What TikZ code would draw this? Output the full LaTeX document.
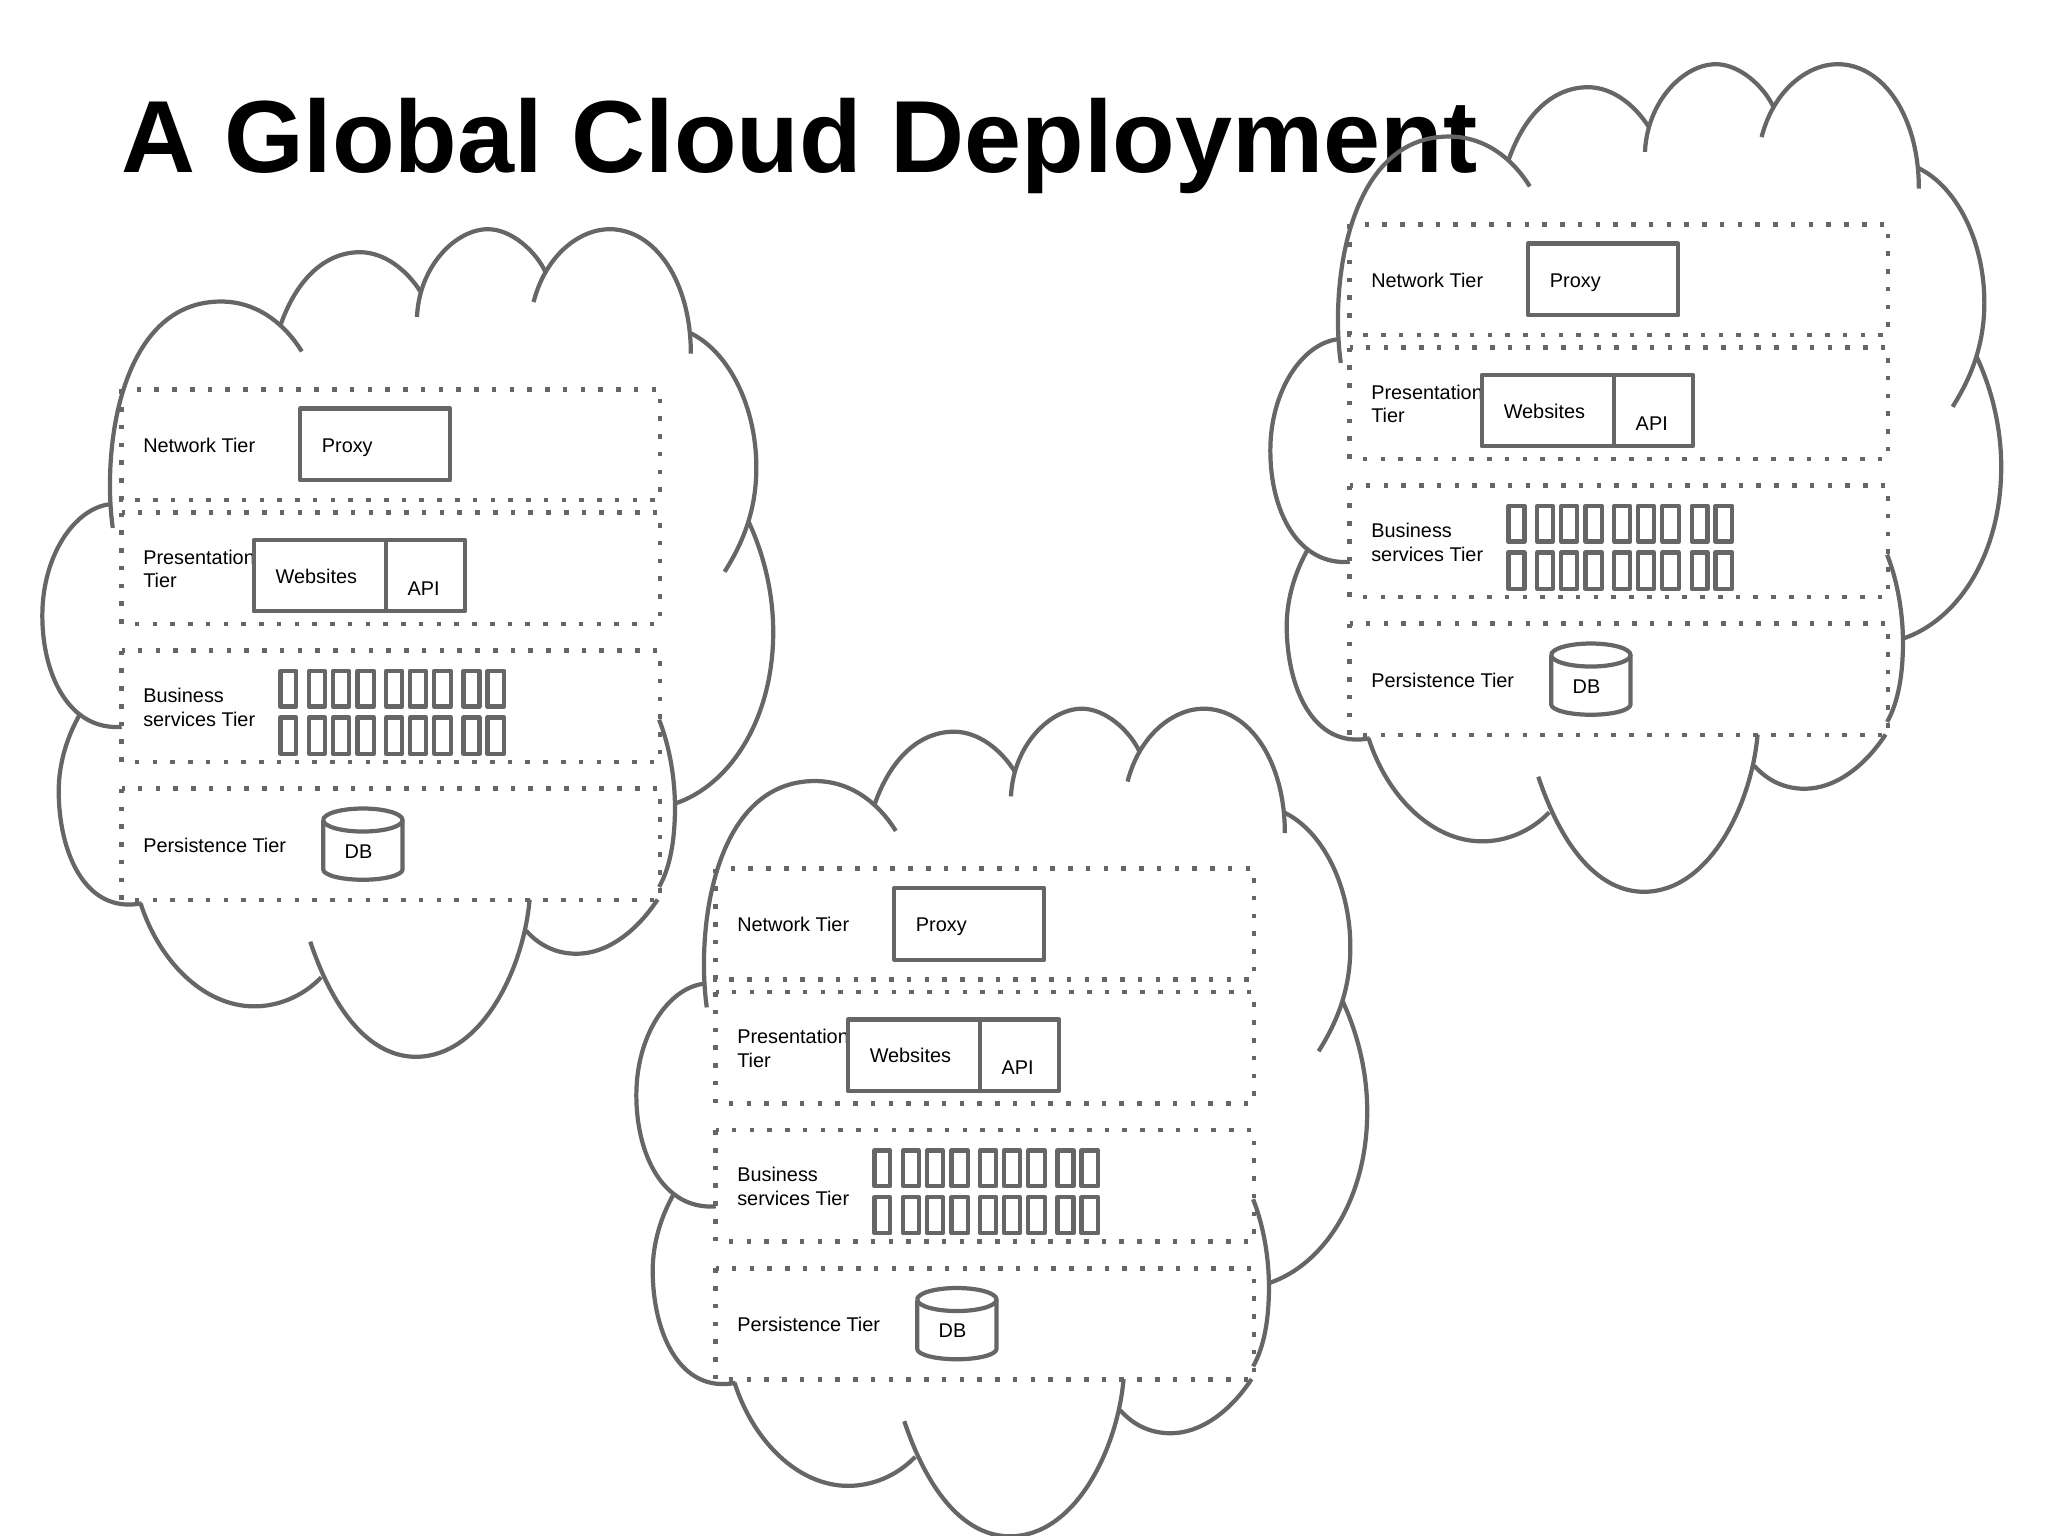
\documentclass[tikz,border=0pt]{standalone}
\usepackage{xcolor}
\usepackage{fontspec}
\setmainfont{Liberation Sans}
\definecolor{cloudgrey}{HTML}{666666}
\tikzset{
  cloudline/.style={draw=cloudgrey,line width=1.2pt},
  tierline/.style={draw=cloudgrey,line width=1.3pt,dash pattern=on 1.3pt off 3.75pt},
  boxline/.style={draw=cloudgrey,line width=1.2pt,line join=round},
  tierlabel/.style={anchor=base west,inner sep=0pt,font=\fontsize{5.65}{6.7}\selectfont},
  tiertwolines/.style={anchor=west,inner sep=0pt,align=left,font=\fontsize{5.65}{6.7}\selectfont}
}
% one cloud with its four tiers, #1 = name prefix, #2 = top left corner
\newcommand{\deploycloud}[2]{
\begin{scope}[shift={#2},x=0.00496cm,y=-0.005485cm,name prefix=#1-]
\draw[cloudline] (187,580) .. controls (165,440) and (200,167) .. (405,167) .. controls (480,167) and (535,210) .. (568,258);
\draw[cloudline] (525,210) .. controls (560,120) and (620,77) .. (685,77) .. controls (735,77) and (780,110) .. (808,150);
\draw[cloudline] (800,195) .. controls (805,100) and (880,35) .. (943,35) .. controls (990,35) and (1040,75) .. (1060,115);
\draw[cloudline] (1035,168) .. controls (1060,80) and (1130,35) .. (1188,35) .. controls (1280,35) and (1352,130) .. (1352,262);
\draw[cloudline] (1352,225) .. controls (1430,260) and (1484,360) .. (1484,470) .. controls (1484,550) and (1455,610) .. (1420,660);
\draw[cloudline] (1468,568) .. controls (1500,630) and (1518,700) .. (1518,770) .. controls (1518,930) and (1430,1050) .. (1320,1083);
\draw[cloudline] (1288,930) .. controls (1310,980) and (1320,1040) .. (1320,1090) .. controls (1320,1150) and (1310,1200) .. (1288,1235);
\draw[cloudline] (1020,1315) .. controls (1050,1345) and (1085,1357) .. (1122,1357) .. controls (1180,1357) and (1240,1320) .. (1285,1258);
\draw[cloudline] (1027,1258) .. controls (1015,1385) and (930,1545) .. (798,1545) .. controls (710,1545) and (635,1470) .. (585,1335);
\draw[cloudline] (607,1400) .. controls (570,1435) and (520,1453) .. (472,1453) .. controls (370,1453) and (280,1370) .. (243,1265);
\draw[cloudline] (245,1265) .. controls (130,1285) and (78,1170) .. (78,1060) .. controls (78,1010) and (95,960) .. (122,918);
\draw[cloudline] (205,943) .. controls (100,950) and (45,850) .. (45,740) .. controls (45,630) and (110,545) .. (180,537);
% tiers
\draw[tierline] (205,327) rectangle (1290,529);
\draw[tierline] (205,552) rectangle (1290,755);
\draw[tierline] (205,804) rectangle (1290,1007);
\draw[tierline] (205,1056) rectangle (1290,1259);
\node[tierlabel] (network) at (247,442) {Network Tier};
\node[tiertwolines] (presentation) at (247,655) {Presentation\\Tier};
\node[tiertwolines] (business) at (247,907) {Business\\services Tier};
\node[tierlabel] (persistence) at (247,1172) {Persistence Tier};
% boxes
\draw[boxline] (565,362) rectangle (867,493);
\node[tierlabel] (proxy) at (607,442) {Proxy};
\draw[boxline] (471,602) rectangle (738,732);
\draw[boxline] (738,602) rectangle (897,732);
\node[tierlabel] (websites) at (514,681) {Websites};
\node[tierlabel] (api) at (780,703) {API};
\foreach \xa/\xb in {525/557,583/614,631/663,680/713,738/770,786/818,835/868,894/926,942/976} {
\draw[boxline] (\xa,841) rectangle (\xb,906);
\draw[boxline] (\xa,926) rectangle (\xb,992);
}
\draw[boxline] (611,1113) arc[start angle=180,end angle=-180,x radius=80,y radius=21];
\draw[boxline] (611,1113) -- (611,1203) arc[start angle=180,end angle=0,x radius=80,y radius=19] -- (771,1113);
\node[tierlabel] (db) at (653,1183) {DB};
\end{scope}
}

\begin{document}
\begin{tikzpicture}[x=0.01cm,y=-0.01cm]
\useasboundingbox (0,0) rectangle (2048,1536);
\node[anchor=base west,inner sep=0pt,font=\bfseries\fontsize{29.15}{32}\selectfont] (title) at (121,172) {A Global Cloud Deployment};
\deploycloud{left}{(20,210)}
\deploycloud{mid}{(614,689.5)}
\deploycloud{right}{(1248,45)}
\end{tikzpicture}
\end{document}
